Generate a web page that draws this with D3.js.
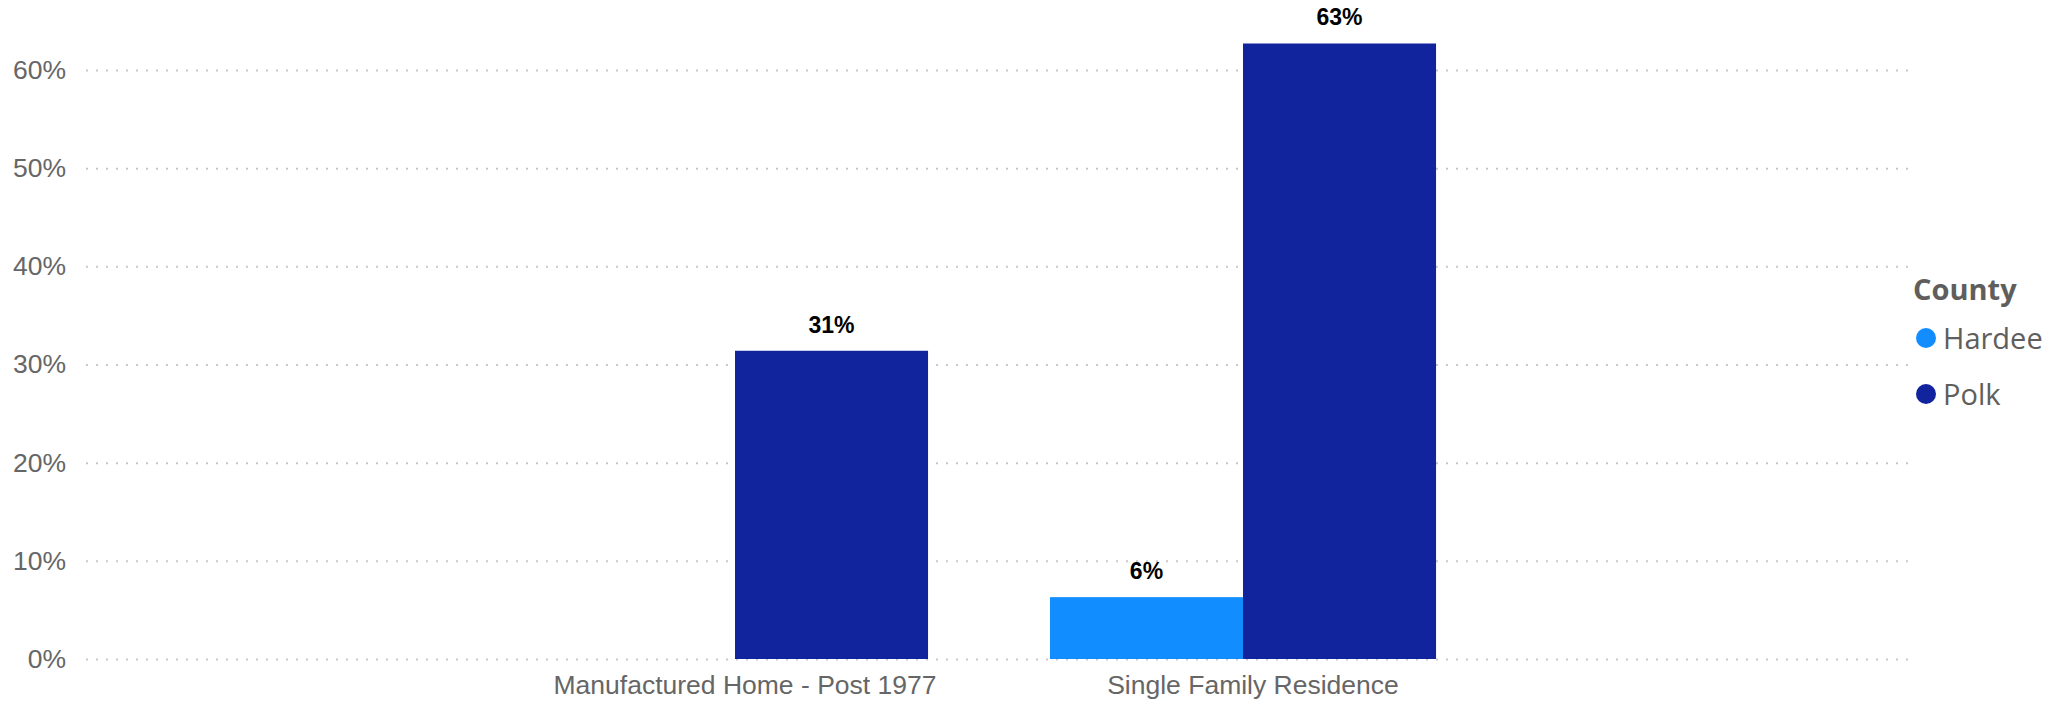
<!DOCTYPE html>
<html>
<head>
<meta charset="utf-8">
<script src="https://cdn.jsdelivr.net/npm/d3@7"></script>
<style>
  body { margin: 0; background: #fff; }
  svg { display: block; }
</style>
</head>
<body>
<div id="chart"></div>
<script>
// chart values
const categories = ['Manufactured Home - Post 1977', 'Single Family Residence'];
const counties = ['Hardee', 'Polk'];
const hardeeValues = [null, 0.063];
const polkValues = [0.314, 0.627];
const yTicks = [0, 0.1, 0.2, 0.3, 0.4, 0.5, 0.6];
const countyColors = ['#118DFF', '#12239E'];

const width = 2069;
const height = 701;
const plot = { left: 86, right: 1909, top: 70, bottom: 659 };

const rows = categories.map((c, i) => ({
    category: c,
    values: [
        { county: counties[0], value: hardeeValues[i] },
        { county: counties[1], value: polkValues[i] },
    ],
}));

const svg = d3.select('#chart')
    .append('svg')
    .attr('width', width)
    .attr('height', height);

const x = d3.scaleBand()
    .domain(categories)
    .range([481, 1497])
    .paddingInner(0.24)
    .paddingOuter(0.12);

const xInner = d3.scaleBand()
    .domain(counties)
    .range([0, x.bandwidth()]);

const y = d3.scaleLinear()
    .domain([0, 0.6])
    .range([plot.bottom, plot.top]);

const color = d3.scaleOrdinal().domain(counties).range(countyColors);
const pct = d3.format('.0%');

// gridlines + y labels
const yAxis = svg.append('g')
    .attr('class', 'axis axis--y')
    .attr('transform', `translate(${plot.left},0)`)
    .call(d3.axisLeft(y)
        .tickValues(yTicks)
        .tickFormat(pct)
        .tickSize(-(plot.right - plot.left))
        .tickPadding(20));

yAxis.select('.domain').remove();
yAxis.selectAll('.tick line')
    .attr('stroke', '#c8c8c8')
    .attr('stroke-width', 2)
    .attr('stroke-dasharray', '2 8');
yAxis.selectAll('.tick text')
    .attr('fill', '#666666')
    .attr('font-family', '"Liberation Sans", Arial, sans-serif')
    .attr('font-size', 26.5);

// category labels
const xAxis = svg.append('g')
    .attr('class', 'axis axis--x')
    .attr('transform', `translate(0,${plot.bottom})`)
    .call(d3.axisBottom(x).tickSize(0).tickPadding(0));

xAxis.select('.domain').remove();
xAxis.selectAll('.tick text')
    .attr('fill', '#666666')
    .attr('font-family', '"Liberation Sans", Arial, sans-serif')
    .attr('font-size', 26.5)
    .attr('dx', 10)
    .attr('y', 35)
    .attr('dy', 0);

// bars
const groups = svg.append('g')
    .selectAll('.group')
    .data(rows)
    .enter()
    .append('g')
    .attr('class', 'group')
    .attr('transform', d => `translate(${x(d.category)},0)`);

const bars = groups.selectAll('.bar')
    .data(d => d.values.filter(v => v.value !== null))
    .enter();

bars.append('rect')
    .attr('class', 'bar')
    .attr('x', d => xInner(d.county))
    .attr('width', xInner.bandwidth())
    .attr('y', d => y(d.value))
    .attr('height', d => y(0) - y(d.value))
    .attr('fill', d => color(d.county));

bars.append('text')
    .attr('class', 'label')
    .attr('x', d => xInner(d.county) + xInner.bandwidth() / 2)
    .attr('y', d => y(d.value) - 18)
    .attr('text-anchor', 'middle')
    .attr('font-family', '"Liberation Sans", Arial, sans-serif')
    .attr('font-weight', 'bold')
    .attr('font-size', 23)
    .attr('fill', '#000')
    .text(d => pct(d.value));

// legend
const legend = svg.append('g')
    .attr('transform', 'translate(1913,0)');

legend.append('text')
    .attr('x', 0)
    .attr('y', 300)
    .attr('font-family', '"Open Sans", "Noto Sans", sans-serif')
    .attr('font-weight', 'bold')
    .attr('font-size', 29)
    .attr('fill', '#605e5c')
    .text('County');

const items = legend.selectAll('.item')
    .data(counties)
    .enter()
    .append('g')
    .attr('class', 'item')
    .attr('transform', (d, i) => `translate(0,${338 + i * 56})`);

items.append('circle')
    .attr('cx', 13)
    .attr('cy', 0)
    .attr('r', 10)
    .attr('fill', d => color(d));

items.append('text')
    .attr('x', 30)
    .attr('y', 11)
    .attr('font-family', '"Open Sans", "Noto Sans", sans-serif')
    .attr('font-size', 29)
    .attr('fill', '#605e5c')
    .text(d => d);
</script>
</body>
</html>
